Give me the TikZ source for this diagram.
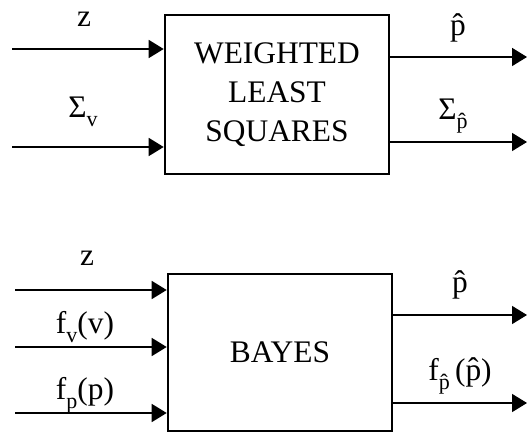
\documentclass[tikz,border=0pt]{standalone}
\usepackage{fontspec}
\setmainfont{Liberation Serif}
\usetikzlibrary{arrows.meta}

% lowered roman subscript, as set in the figure
\newcommand{\lowsub}[1]{\raisebox{-0.3em}{\fontsize{11}{11}\selectfont #1}}

\begin{document}
\begin{tikzpicture}[x=0.5pt,y=-0.5pt,font=\fontsize{15.7}{19.5}\selectfont,
		>={Triangle[length=7.5pt,width=9pt]}]
	
	% ==========================================
	% 1. STYLES
	% ==========================================
	\tikzset{
		blockbox/.style={draw, line width=1.3pt, minimum width=112pt, align=center, inner sep=0pt},
		sigline/.style={line width=0.8pt, ->},
		siglabel/.style={inner sep=1pt}
	}
	
	% canvas
	\useasboundingbox (0,0) rectangle (529,432);
	
	% ==========================================
	% 2. WEIGHTED LEAST SQUARES
	% ==========================================
	\node[blockbox, minimum height=79.5pt] (wls) at (277,94.5) {WEIGHTED\\LEAST\\SQUARES};
	
	% inputs
	\coordinate (wlsinz) at (12,49);
	\coordinate (wlsinsig) at (12,147);
	\draw[sigline] (wlsinz) -- (wlsinz -| wls.west);
	\draw[sigline] (wlsinsig) -- (wlsinsig -| wls.west);
	\node[siglabel] (wlsz) at (84,19) {z};
	\node[siglabel] (wlssig) at (83,112) {Σ\lowsub{v}};
	
	% outputs
	\coordinate (wlsoutp) at (527,57);
	\coordinate (wlsoutsig) at (527,142);
	\draw[sigline] (wlsoutp -| wls.east) -- (wlsoutp);
	\draw[sigline] (wlsoutsig -| wls.east) -- (wlsoutsig);
	\node[siglabel] (wlsp) at (458,28) {\^{p}};
	\node[siglabel] (wlssigp) at (453,116) {Σ\lowsub{\^{p}}};
	
	% ==========================================
	% 3. BAYES
	% ==========================================
	\node[blockbox, minimum height=78.5pt] (bayes) at (280,352.5) {BAYES};
	
	% inputs
	\coordinate (bayinz) at (15,290);
	\coordinate (bayinfv) at (15,347);
	\coordinate (bayinfp) at (15,413);
	\draw[sigline] (bayinz) -- (bayinz -| bayes.west);
	\draw[sigline] (bayinfv) -- (bayinfv -| bayes.west);
	\draw[sigline] (bayinfp) -- (bayinfp -| bayes.west);
	\node[siglabel] (bayz) at (87,258) {z};
	\node[siglabel] (bayfv) at (85,327) {f\lowsub{v}(v)};
	\node[siglabel] (bayfp) at (85,395) {f\lowsub{p}(p)};
	
	% outputs
	\coordinate (bayoutp) at (527,315);
	\coordinate (bayoutf) at (527,403);
	\draw[sigline] (bayoutp -| bayes.east) -- (bayoutp);
	\draw[sigline] (bayoutf -| bayes.east) -- (bayoutf);
	\node[siglabel] (bayp) at (460,285) {\^{p}};
	\node[siglabel] (bayfpp) at (460,376) {f\lowsub{\^{p}}\,(\^{p})};
	
\end{tikzpicture}
\end{document}
